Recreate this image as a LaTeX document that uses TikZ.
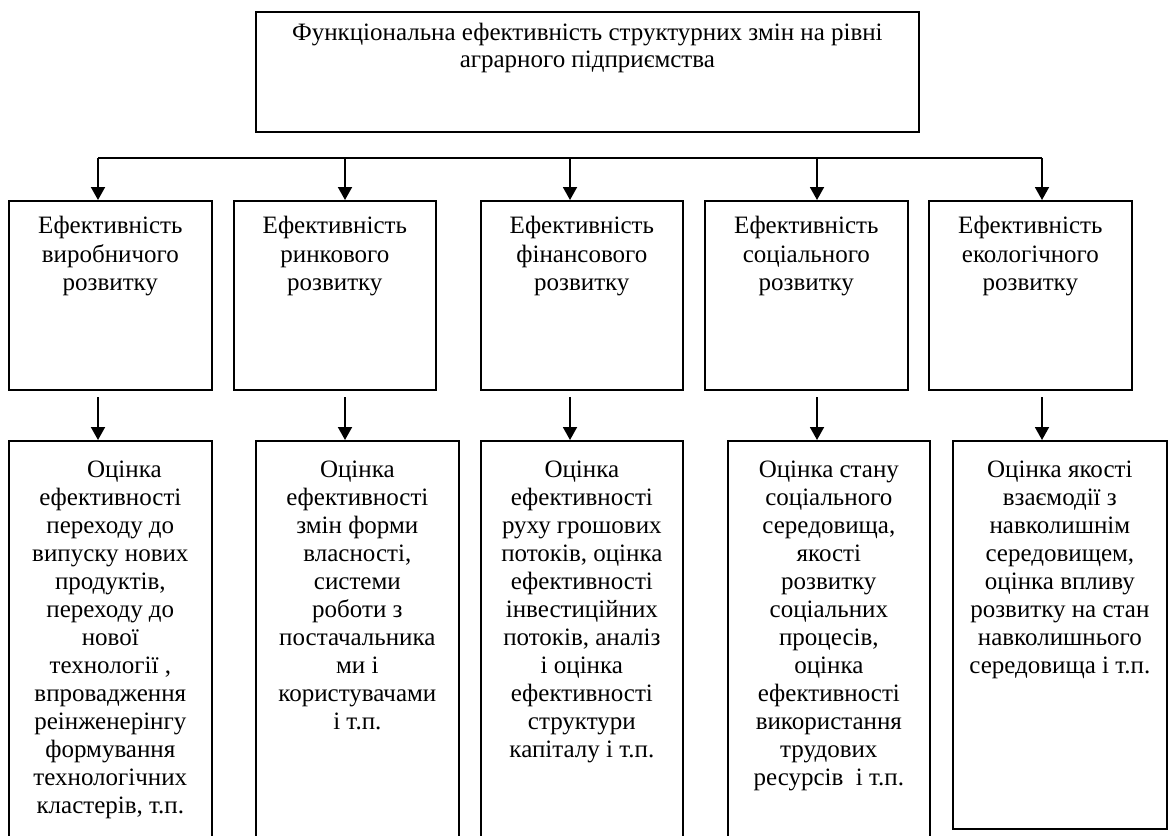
\documentclass[tikz,border=0pt]{standalone}
\usepackage{fontspec}
\setmainfont{Liberation Serif}
\usetikzlibrary{arrows.meta,calc}
\tikzset{
  >={Triangle[length=13pt,width=14pt]},
  blk/.style={draw=black,line width=1.7pt,inner sep=0pt,anchor=north west},
  conn/.style={line width=1.9pt},
  flow/.style={->,line width=1.9pt},
}
% width, height, baseline skip, first baseline, text
\newcommand{\boxtxt}[5]{\parbox[t][#2][t]{#1}{\centering
  \fontsize{25}{#3}\selectfont\rule{0pt}{#4}#5}}

\begin{document}
\begin{tikzpicture}[x=1pt,y=-1pt]
  \clip (0,0) rectangle (1169,835);
  % top level
  \node[blk] (top) at (255,11) {\boxtxt{663pt}{120pt}{27pt}{29pt}{%
    Функціональна ефективність структурних змін на рівні\\
    аграрного підприємства}};
  % second level
  \node[blk] (u1) at (8,200) {\boxtxt{203pt}{189pt}{28.5pt}{33pt}{%
    Ефективність\\виробничого\\розвитку}};
  \node[blk] (u2) at (233,200) {\boxtxt{202pt}{189pt}{28.5pt}{33pt}{%
    Ефективність\\ринкового\\розвитку}};
  \node[blk] (u3) at (480,200) {\boxtxt{202pt}{189pt}{28.5pt}{33pt}{%
    Ефективність\\фінансового\\розвитку}};
  \node[blk] (u4) at (704,200) {\boxtxt{203pt}{189pt}{28.5pt}{33pt}{%
    Ефективність\\соціального\\розвитку}};
  \node[blk] (u5) at (928,200) {\boxtxt{203pt}{189pt}{28.5pt}{33pt}{%
    Ефективність\\екологічного\\розвитку}};
  % third level
  \node[blk] (l1) at (8,440) {\boxtxt{203pt}{410pt}{28pt}{37pt}{%
    \hspace*{28pt}Оцінка\\ефективності\\переходу до\\випуску нових\\
    продуктів,\\переходу до\\нової\\технології ,\\впровадження\\
    реінженерінгу\\формування\\технологічних\\кластерів, т.п.}};
  \node[blk] (l2) at (255,440) {\boxtxt{203pt}{410pt}{28pt}{37pt}{%
    Оцінка\\ефективності\\змін форми\\власності,\\системи\\роботи з\\
    постачальника\\ми і\\користувачами\\і т.п.}};
  \node[blk] (l3) at (480,440) {\boxtxt{202pt}{410pt}{28pt}{37pt}{%
    Оцінка\\ефективності\\руху грошових\\потоків, оцінка\\ефективності\\
    інвестиційних\\потоків, аналіз\\і оцінка\\ефективності\\структури\\
    капіталу і т.п.}};
  \node[blk] (l4) at (727,440) {\boxtxt{202pt}{410pt}{28pt}{37pt}{%
    Оцінка стану\\соціального\\середовища,\\якості\\розвитку\\соціальних\\
    процесів,\\оцінка\\ефективності\\використання\\трудових\\
    ресурсів\ \ і т.п.}};
  \node[blk] (l5) at (952,440) {\boxtxt{214pt}{388pt}{28pt}{37pt}{%
    Оцінка якості\\взаємодії з\\навколишнім\\середовищем,\\оцінка впливу\\
    розвитку на стан\\навколишнього\\середовища і т.п.}};
  % connectors
  \foreach \i/\x in {1/98,2/345,3/570,4/817,5/1042} {
    \coordinate (b\i) at (\x,158);
    \coordinate (s\i) at (\x,397);
    \draw[flow] (b\i) -- (b\i |- u\i.north);
    \draw[flow] (s\i) -- (s\i |- l\i.north);
  }
  \draw[conn] (b1) -- (b5);
\end{tikzpicture}
\end{document}
